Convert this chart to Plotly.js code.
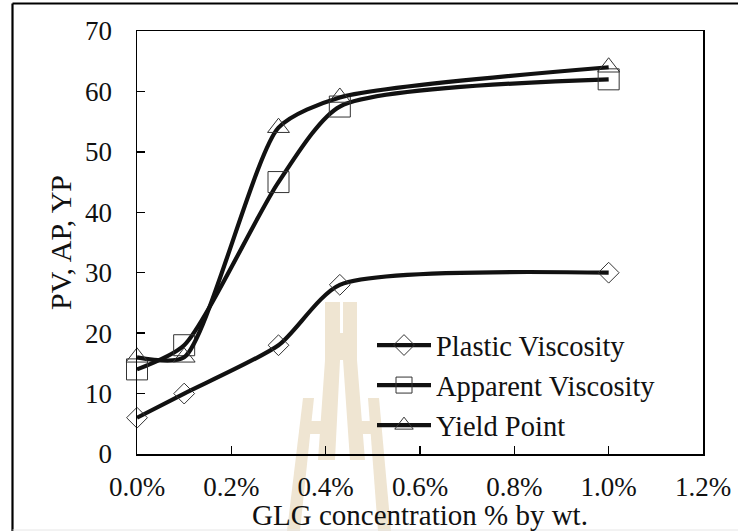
<!DOCTYPE html>
<html><head><meta charset="utf-8">
<script src="https://cdn.plot.ly/plotly-3.0.1.min.js"></script>
<style>
html,body{margin:0;padding:0;background:#fff}
</style>
</head><body><div id="chart" style="width:738px;height:531px"></div>
<script>
// ---- data ----
const concentration = [0, 0.001, 0.003, 0.0043, 0.01];
const plasticViscosity = [6, 10, 18, 28, 30];
const apparentViscosity = [14, 18, 45, 57.5, 62];
const yieldPoint = [16, 16, 54, 59, 64];
const seriesNames = ['Plastic Viscosity', 'Apparent Viscosity', 'Yield Point'];
const xTickValues = [0, 0.002, 0.004, 0.006, 0.008, 0.010, 0.012];
const xTitle = 'GLG concentration % by wt.';
const yTitle = 'PV, AP, YP';

// ---- layout geometry ----
const W = 738, H = 531;
const M = {l: 137, r: 35, t: 31, b: 77};
const PW = W - M.l - M.r, PH = H - M.t - M.b;
const px2x = p => (p - M.l) / PW;
const px2y = p => (H - M.b - p) / PH;
function polyPath(pts) {
  return 'M' + pts.map(p => px2x(p[0]).toFixed(4) + ',' + px2y(p[1]).toFixed(4)).join('L') + 'Z';
}
const FONT = '"Liberation Serif", "Times New Roman", serif';
const lineColor = '#111111';

function series(name, y, symbol, size) {
  return {
    type: 'scatter', mode: 'lines+markers', name: name,
    x: concentration, y: y, cliponaxis: false,
    line: {color: lineColor, width: 4.2, shape: 'spline', smoothing: 0.65},
    marker: {symbol: symbol, size: size, color: '#333', line: {color: '#333', width: 1}}
  };
}

const traces = [
  series(seriesNames[0], plasticViscosity, 'diamond-open', 16),
  series(seriesNames[1], apparentViscosity, 'square-open', 21),
  series(seriesNames[2], yieldPoint, 'triangle-up-open', 19)
];

// watermark (decorative logo, light tan)
const wm = 'rgb(239,229,210)';
const wmPolys = [
  [[325,302],[340,302],[340,333],[343,333],[343,302],[357,302],[357,360],[365,460],[350,460],[343,360],[340,360],[335,460],[318,460],[325,360]],
  [[303,398],[314,398],[300,531],[287,531]],
  [[368,398],[379,398],[391,531],[378,531]],
  [[309,421],[324,421],[322,434],[307,434]],
  [[358,421],[372,421],[374,434],[359,434]]
];
const shapes = wmPolys.map(p => ({
  type: 'path', xref: 'paper', yref: 'paper', layer: 'below',
  path: polyPath(p), fillcolor: wm, line: {width: 0}
}));
// outer frame
shapes.push({type: 'line', xref: 'paper', yref: 'paper', x0: px2x(12.5), x1: px2x(12.5), y0: px2y(3.5), y1: px2y(540), line: {color: '#000', width: 2.2}});
shapes.push({type: 'line', xref: 'paper', yref: 'paper', x0: px2x(12.5), x1: px2x(760), y0: px2y(3.5), y1: px2y(3.5), line: {color: '#000', width: 2}});
shapes.push({type: 'line', xref: 'paper', yref: 'paper', x0: px2x(12.5), x1: px2x(760), y0: px2y(530), y1: px2y(530), line: {color: '#e6e6e6', width: 1}});

const axisCommon = {
  showgrid: false, zeroline: false, showline: true, mirror: true,
  linecolor: '#000', linewidth: 1.5, ticks: 'inside', ticklen: 8, tickwidth: 1.3, tickcolor: '#000',
  tickfont: {family: FONT, size: 27, color: '#111'}
};

const layout = {
  width: W, height: H, margin: M, autosize: false,
  font: {family: FONT, size: 27, color: '#111'},
  paper_bgcolor: '#fff', plot_bgcolor: 'rgba(0,0,0,0)',
  showlegend: true,
  legend: {x: px2x(372), y: px2y(320), xanchor: 'left', yanchor: 'top',
           bgcolor: 'rgba(0,0,0,0)', font: {family: FONT, size: 28.5, color: '#111'},
           itemwidth: 54, tracegroupgap: 0},
  xaxis: Object.assign({}, axisCommon, {
    range: [0, 0.012], tickvals: xTickValues, tickformat: '.1%', ticklabelstandoff: 8,
    title: {text: xTitle, font: {family: FONT, size: 29, color: '#111'}, standoff: 0}
  }),
  yaxis: Object.assign({}, axisCommon, {
    range: [0, 70], dtick: 10, ticklabelstandoff: 18,
    title: {text: yTitle, font: {family: FONT, size: 30, color: '#111'}, standoff: 4}
  }),
  shapes: shapes
};

Plotly.newPlot('chart', traces, layout, {displayModeBar: false, staticPlot: true});
</script></body></html>
